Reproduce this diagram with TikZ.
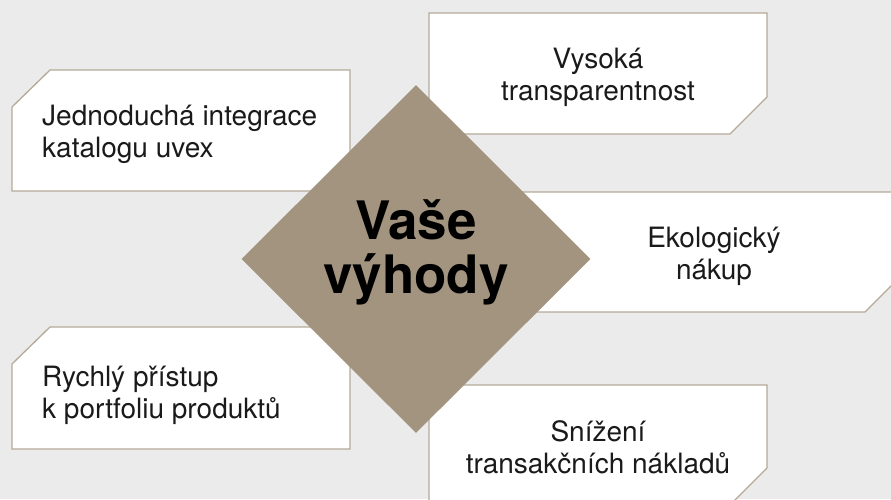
\documentclass[tikz,border=0pt]{standalone}
\usepackage{fontspec}
\setmainfont{TeX Gyre Heros}
\usetikzlibrary{shapes.geometric}
\definecolor{pagebg}{HTML}{EBEBEB}
\definecolor{taupe}{HTML}{A39480}
\definecolor{rim}{HTML}{B5A998}
\definecolor{ink}{HTML}{1A1A1A}
\tikzset{
  card/.style={fill=white, draw=rim, line width=1.3pt},
  cardtext/.style={inner sep=0pt, text=ink, font=\fontsize{28}{32}\selectfont},
}
\begin{document}
\begin{tikzpicture}[x=1pt, y=-1pt]
\fill[pagebg] (0,0) rectangle (891,499);
\clip (0,0) rectangle (891,499);
% cards with one cut corner
\draw[card] (50,70) -- (350,70) -- (350,191) -- (12,191) -- (12,107) -- cycle;
\draw[card] (429,13) -- (767,13) -- (767,97) -- (730,134) -- (429,134) -- cycle;
\draw[card] (429,192) -- (902,192) -- (902,275) -- (865,312) -- (429,312) -- cycle;
\draw[card] (50,327) -- (350,327) -- (350,449) -- (12,449) -- (12,364) -- cycle;
\draw[card] (429,385) -- (767,385) -- (767,468) -- (730,505) -- (429,505) -- cycle;
% centre
\node[diamond, fill=taupe, inner sep=0pt, minimum width=349pt, minimum height=348pt] (hub) at (416,259){};
\node[inner sep=0pt, align=center, text=black, font=\bfseries\fontsize{53}{54}\selectfont, anchor=base] (hubtext) at (416,293){Vaše\\výhody};
% labels (anchored on the last baseline)
\node[cardtext, align=left, anchor=base west] (catalog) at (42,157){Jednoduchá integrace\\katalogu uvex};
\node[cardtext, align=center, anchor=base] (transparency) at (598,100){Vysoká\\transparentnost};
\node[cardtext, align=center, anchor=base] (eco) at (714,279){Ekologický\\nákup};
\node[cardtext, align=left, anchor=base west] (access) at (42,418){Rychlý přístup\\k portfoliu produktů};
\node[cardtext, align=center, anchor=base] (costs) at (598,473){Snížení\\transakčních nákladů};
\end{tikzpicture}
\end{document}
